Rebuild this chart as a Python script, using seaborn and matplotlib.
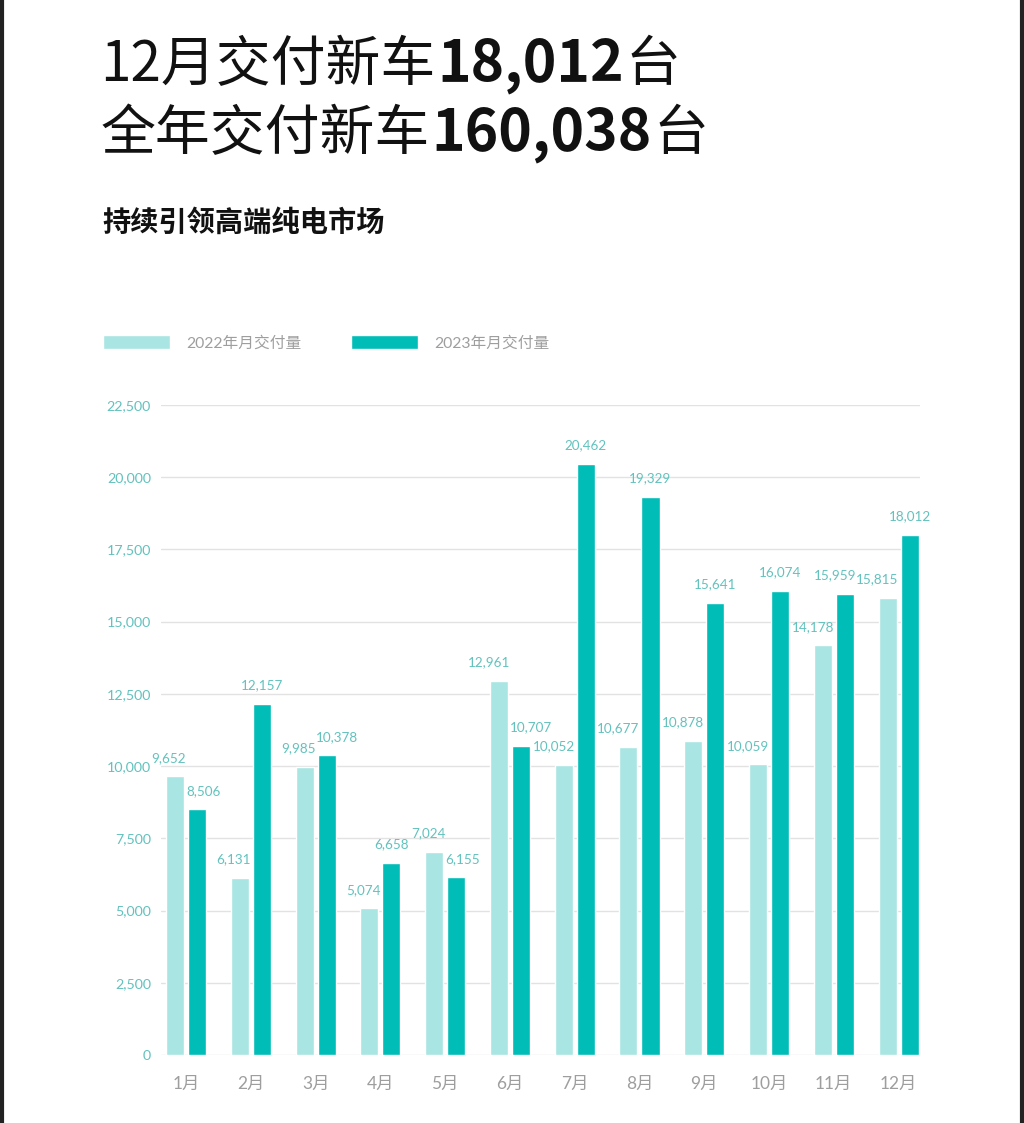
import matplotlib
matplotlib.use("Agg")
import matplotlib.pyplot as plt
from matplotlib.lines import Line2D
import pandas as pd
import seaborn as sns

months = ["1月", "2月", "3月", "4月", "5月", "6月", "7月", "8月", "9月", "10月", "11月", "12月"]
deliv_2022 = [9652, 6131, 9985, 5074, 7024, 12961, 10052, 10677, 10878, 10059, 14178, 15815]
deliv_2023 = [8506, 12157, 10378, 6658, 6155, 10707, 20462, 19329, 15641, 16074, 15959, 18012]
series = ["2022年月交付量", "2023年月交付量"]
yticks = [0, 2500, 5000, 7500, 10000, 12500, 15000, 17500, 20000, 22500]

# how the 2023 value labels sit on their bars (avoids clashing with neighbours)
dark_ha = ["left", "center", "left", "center", "left", "left",
           "center", "center", "center", "center", "right", "center"]

light = "#a9e6e3"
dark = "#00bdb7"
teal_txt = "#62c2bd"
grey_txt = "#9e9e9e"

df = pd.DataFrame({
    "month": months * 2,
    "value": deliv_2022 + deliv_2023,
    "year": [series[0]] * 12 + [series[1]] * 12,
})

sns.set_theme(style="white")
plt.rcParams["font.family"] = ["Lato", "Noto Sans CJK SC", "DejaVu Sans"]

fig = plt.figure(figsize=(10.24, 11.23), dpi=100)
ax = fig.add_axes([0.157, 0.0605, 0.7414, 0.5789])

sns.barplot(data=df, x="month", y="value", hue="year", palette=[light, dark],
            width=0.68, gap=0.18, saturation=1, ax=ax)

# value labels: 2022 right-aligned to its bar, 2023 per dark_ha
c22, c23 = ax.containers[0], ax.containers[1]
for bar, v in zip(c22, c22.datavalues):
    ax.annotate(f"{v:,.0f}", xy=(bar.get_x() + bar.get_width(), v), xytext=(1.5, 9),
                textcoords="offset points", ha="right", va="bottom",
                color=teal_txt, fontsize=9.7)
for bar, v, ha in zip(c23, c23.datavalues, dark_ha):
    x = {"left": bar.get_x(), "center": bar.get_x() + bar.get_width() / 2,
         "right": bar.get_x() + bar.get_width()}[ha]
    dx = {"left": -1.5, "center": 0, "right": 1.5}[ha]
    ax.annotate(f"{v:,.0f}", xy=(x, v), xytext=(dx, 9),
                textcoords="offset points", ha=ha, va="bottom",
                color=teal_txt, fontsize=9.7)

ax.set_ylim(0, 22500)
ax.set_xlim(-0.39, 11.33)
ax.set_yticks(yticks)
ax.set_yticklabels([f"{t:,}" for t in yticks])
ax.yaxis.grid(True, color="#e2e2e2", linewidth=1)
ax.set_axisbelow(True)
for s in ax.spines.values():
    s.set_visible(False)
ax.tick_params(axis="y", colors=teal_txt, labelsize=10.3, length=0, pad=7)
ax.tick_params(axis="x", colors=grey_txt, labelsize=12.5, length=0, pad=15)
ax.set_xlabel("")
ax.set_ylabel("")

ax.legend(loc="center left", bbox_to_anchor=(0.087, 0.695), bbox_transform=fig.transFigure,
          ncol=2, frameon=False, fontsize=11.3, labelcolor=grey_txt,
          handlelength=4.27, handleheight=1.08, handletextpad=1.0, columnspacing=3.2)

# title lines: normal text followed by bold number
cjk = ["Noto Sans CJK SC", "DejaVu Sans"]
for y, head, num in [(0.928, "12月交付新车", "18,012"), (0.866, "全年交付新车", "160,038")]:
    t1 = fig.text(0.098, y, head, fontsize=39.5, family=cjk, fontweight="light",
                  va="baseline", color="#111111")
    t2 = ax.annotate(num, xy=(1, 0), xycoords=t1, xytext=(1.5, 0), textcoords="offset points",
                     fontsize=41, family=cjk, fontweight="bold", va="bottom",
                     annotation_clip=False, color="#111111")
    ax.annotate("台", xy=(1, 0), xycoords=t2, xytext=(1, 0), textcoords="offset points",
                fontsize=39.5, family=cjk, fontweight="light", va="bottom",
                annotation_clip=False, color="#111111")

fig.text(0.1, 0.802, "持续引领高端纯电市场", fontsize=20.3, family=cjk, fontweight="bold",
         va="center", color="#111111")

# dark frame edges of the screenshot
fig.add_artist(Line2D([0.0015, 0.0015], [0, 1], color="#222222", linewidth=3, transform=fig.transFigure))
fig.add_artist(Line2D([0.9985, 0.9985], [0, 1], color="#222222", linewidth=3, transform=fig.transFigure))

fig.savefig("out.png", dpi=100)
